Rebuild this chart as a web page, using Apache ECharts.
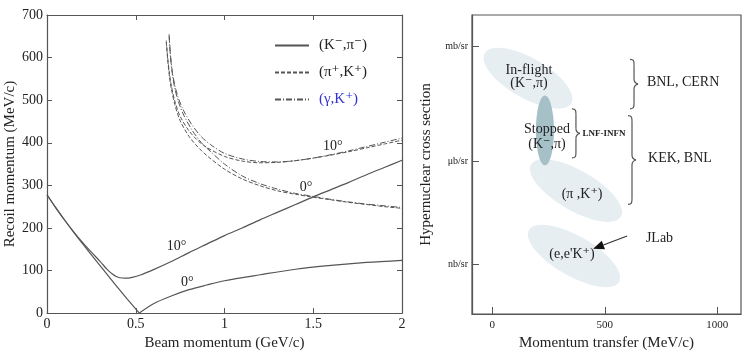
<!DOCTYPE html>
<html>
<head>
<meta charset="utf-8">
<script src="https://cdn.jsdelivr.net/npm/echarts@6/dist/echarts.min.js"></script>
<style>
  html, body { margin: 0; padding: 0; background: #fff; }
  #chart { width: 747px; height: 356px; }
</style>
</head>
<body>
<div id="chart"></div>
<script>
// ---- left panel: recoil momentum vs beam momentum ----
// (K-,pi-) 0 deg, split at the magic momentum
const kpi0DownBeam = [0, 0.05, 0.1, 0.15, 0.2, 0.25, 0.3, 0.35, 0.4, 0.45, 0.52]
const kpi0DownRecoil = [278, 247, 218, 190, 163, 137, 111, 85, 59, 34, 0]
const kpi0UpBeam = [0.52, 0.6, 0.7, 0.8, 0.9, 1.0, 1.2, 1.4, 1.6, 1.8, 2.0]
const kpi0UpRecoil = [0, 22, 40, 55, 66, 76, 90, 103, 112, 119, 124]
// (K-,pi-) 10 deg
const kpi10Beam = [0, 0.05, 0.1, 0.15, 0.2, 0.25, 0.3, 0.34, 0.37, 0.39, 0.41, 0.44, 0.48, 0.53, 0.6, 0.7, 0.8, 0.9, 1.0, 1.1, 1.2, 1.3, 1.4, 1.5, 1.6, 1.7, 1.8, 1.9, 2.0]
const kpi10Recoil = [278, 247, 218, 191, 166, 143, 121, 102, 91, 86, 83, 82, 84, 90, 102, 121, 142, 162, 182, 200, 219, 237, 255, 273, 290, 307, 325, 342, 359]
// (pi+,K+)
const pik10Beam = [0.672, 0.68, 0.69, 0.70, 0.72, 0.75, 0.8, 0.85, 0.9, 1.0, 1.1, 1.2, 1.3, 1.4, 1.5, 1.6, 1.7, 1.8, 1.9, 2.0]
const pik10Recoil = [640, 600, 562, 535, 498, 462, 428, 405, 389, 368, 357, 353, 354, 358, 364, 371, 379, 388, 397, 406]
const pik0Beam = [0.672, 0.68, 0.69, 0.70, 0.72, 0.75, 0.8, 0.85, 0.9, 1.0, 1.1, 1.2, 1.3, 1.4, 1.5, 1.6, 1.7, 1.8, 1.9, 2.0]
const pik0Recoil = [636, 595, 555, 528, 490, 452, 415, 390, 370, 338, 315, 299, 287, 279, 272, 266, 260, 255, 250, 246]
// (gamma,K+)
const gk10Beam = [0.688, 0.695, 0.705, 0.72, 0.74, 0.77, 0.82, 0.87, 0.92, 1.0, 1.1, 1.2, 1.3, 1.4, 1.5, 1.6, 1.7, 1.8, 1.9, 2.0]
const gk10Recoil = [655, 610, 570, 535, 505, 475, 440, 414, 396, 375, 362, 356, 355, 358, 364, 372, 381, 391, 401, 411]
const gk0Beam = [0.688, 0.695, 0.705, 0.72, 0.74, 0.77, 0.82, 0.87, 0.92, 1.0, 1.1, 1.2, 1.3, 1.4, 1.5, 1.6, 1.7, 1.8, 1.9, 2.0]
const gk0Recoil = [650, 605, 565, 528, 497, 465, 428, 400, 380, 350, 322, 304, 291, 281, 274, 267, 261, 256, 252, 248]

// angle labels on the curves (beam, recoil)
const angleText = ['10°', '0°', '10°', '0°']
const angleBeam = [0.73, 0.79, 1.61, 1.46]
const angleRecoil = [157, 72, 392, 296]

// ---- right panel: cross section vs momentum transfer (schematic) ----
const qTicks = [0, 500, 1000]
const sigmaTickValues = [0, 3, 6.33]
const sigmaTickLabels = ['nb/sr', 'μb/sr', 'mb/sr']

// ellipses: centre (q, level), semi-axes in MeV/c, tilt in degrees
const ellipseName = ['inflight', 'piK', 'eeK', 'stopped']
const ellipseQ = [159, 372, 363, 234]
const ellipseLevel = [5.41, 2.14, 0.24, 3.89]
const ellipseMajor = [222, 231, 231, 155]
const ellipseMinor = [89, 89, 89, 40]
const ellipseTilt = [30, 30, 30, 90]

const noteText = ['In-flight', '(K⁻,π)', 'Stopped', '(K⁻,π)', 'LNF-INFN', 'BNL, CERN', 'KEK, BNL', '(π ,K⁺)', '(e,e\'K⁺)', 'JLab']
const noteQ = [163, 163, 243, 243, 496, 687, 692, 399, 354, 743]
const noteLevel = [5.65, 5.27, 3.93, 3.49, 3.80, 5.30, 3.09, 2.02, 0.30, 0.76]

// braces: q position, top level, bottom level
const braceQ = [612, 354, 603]
const braceTop = [5.96, 4.52, 4.32]
const braceBottom = [4.52, 3.09, 1.74]

// JLab arrow: from -> to
const arrowFrom = [599, 0.82]
const arrowTo = [448, 0.445]

const serif = '"Liberation Serif", "DejaVu Serif", serif'
const ink = '#555'
const txt = '#222'

const chart = echarts.init(document.getElementById('chart'))

const zip = (xs, ys) => xs.map((x, i) => [x, ys[i]])

const curve = (name, xs, ys, type) => ({
  type: 'line',
  name,
  xAxisIndex: 0,
  yAxisIndex: 0,
  data: zip(xs, ys),
  symbol: 'none',
  smooth: 0.3,
  itemStyle: { color: ink },
  lineStyle: { color: ink, width: type === 'solid' ? 1.2 : 1, type },
  silent: true
})

const dashed = [4, 2]
const dashDot = [6, 2, 1, 2]

// brace drawn from top to bottom, tip pointing right
const braceShape = (x, y1, y2, w) => {
  const ym = (y1 + y2) / 2
  const h = w / 2
  const s = { stroke: ink, lineWidth: 1.2, fill: null }
  return {
    type: 'group',
    children: [
      { type: 'bezierCurve', shape: { x1: x, y1: y1, cpx1: x + h, cpy1: y1, cpx2: x + h, cpy2: y1 + 2, x2: x + h, y2: y1 + 6 }, style: s },
      { type: 'line', shape: { x1: x + h, y1: y1 + 6, x2: x + h, y2: ym - 5 }, style: s },
      { type: 'bezierCurve', shape: { x1: x + h, y1: ym - 5, cpx1: x + h, cpy1: ym - 1, cpx2: x + w, cpy2: ym, x2: x + w, y2: ym }, style: s },
      { type: 'bezierCurve', shape: { x1: x + w, y1: ym, cpx1: x + w, cpy1: ym, cpx2: x + h, cpy2: ym + 1, x2: x + h, y2: ym + 5 }, style: s },
      { type: 'line', shape: { x1: x + h, y1: ym + 5, x2: x + h, y2: y2 - 6 }, style: s },
      { type: 'bezierCurve', shape: { x1: x + h, y1: y2 - 6, cpx1: x + h, cpy1: y2 - 2, cpx2: x + h, cpy2: y2, x2: x, y2: y2 }, style: s }
    ]
  }
}

const option = {
  animation: false,
  backgroundColor: '#fff',
  grid: [
    { left: 47, top: 15, width: 355, height: 303 },
    { left: 472, top: 15, width: 269, height: 303, show: true, borderColor: ink, borderWidth: 1.2, backgroundColor: 'transparent' }
  ],
  legend: {
    orient: 'vertical',
    left: 269,
    top: 33,
    itemWidth: 34,
    itemHeight: 10,
    itemGap: 12,
    itemStyle: { opacity: 0 },
    textStyle: { fontFamily: serif, fontSize: 15, color: txt, padding: [0, 0, 0, 5] },
    data: [
      { name: '(K⁻,π⁻)' },
      { name: '(π⁺,K⁺)' },
      { name: '(γ,K⁺)', textStyle: { color: '#3232d2' } }
    ]
  },
  xAxis: [
    {
      gridIndex: 0, type: 'value', min: 0, max: 2, interval: 0.5, position: 'bottom',
      name: 'Beam momentum (GeV/c)', nameLocation: 'middle', nameGap: 22,
      nameTextStyle: { fontFamily: serif, fontSize: 15, color: txt },
      axisLine: { onZero: false, lineStyle: { color: ink, width: 1.2 } },
      axisTick: { inside: true, length: 5, lineStyle: { color: ink } },
      axisLabel: { fontFamily: serif, fontSize: 14, color: txt, margin: 4, formatter: v => String(v) },
      splitLine: { show: false }
    },
    {
      gridIndex: 0, type: 'value', min: 0, max: 2, interval: 0.5, position: 'top',
      axisLine: { onZero: false, lineStyle: { color: ink, width: 1.2 } },
      axisTick: { inside: true, length: 5, lineStyle: { color: ink } },
      axisLabel: { show: false },
      splitLine: { show: false }
    },
    {
      gridIndex: 1, type: 'value', min: -90, max: 1105, position: 'bottom',
      name: 'Momentum transfer (MeV/c)', nameLocation: 'middle', nameGap: 22,
      nameTextStyle: { fontFamily: serif, fontSize: 15, color: txt },
      axisLine: { onZero: false, lineStyle: { color: ink, width: 1.2 } },
      axisTick: { inside: true, length: 7, customValues: qTicks, lineStyle: { color: ink } },
      axisLabel: { fontFamily: serif, fontSize: 11, color: txt, margin: 6, customValues: qTicks, formatter: v => String(v) },
      splitLine: { show: false }
    }
  ],
  yAxis: [
    {
      gridIndex: 0, type: 'value', min: 0, max: 700, interval: 100, position: 'left',
      name: 'Recoil momentum (MeV/c)', nameLocation: 'middle', nameGap: 29, nameRotate: 90,
      nameTextStyle: { fontFamily: serif, fontSize: 15, color: txt },
      axisLine: { show: true, onZero: false, lineStyle: { color: ink, width: 1.2 } },
      axisTick: { show: true, inside: true, length: 5, lineStyle: { color: ink } },
      axisLabel: { fontFamily: serif, fontSize: 14, color: txt, margin: 4 },
      splitLine: { show: false }
    },
    {
      gridIndex: 0, type: 'value', min: 0, max: 700, interval: 100, position: 'right',
      axisLine: { show: true, onZero: false, lineStyle: { color: ink, width: 1.2 } },
      axisTick: { show: true, inside: true, length: 5, lineStyle: { color: ink } },
      axisLabel: { show: false },
      splitLine: { show: false }
    },
    {
      gridIndex: 1, type: 'value', min: -1.45, max: 7.25, position: 'left',
      name: 'Hypernuclear cross section', nameLocation: 'middle', nameGap: 38, nameRotate: 90,
      nameTextStyle: { fontFamily: serif, fontSize: 15, color: txt },
      axisLine: { show: true, onZero: false, lineStyle: { color: ink, width: 1.2 } },
      axisTick: { show: true, inside: true, length: 7, customValues: sigmaTickValues, lineStyle: { color: ink } },
      axisLabel: {
        fontFamily: serif, fontSize: 10, color: txt, margin: 4, customValues: sigmaTickValues,
        formatter: v => sigmaTickLabels[sigmaTickValues.indexOf(v)] || ''
      },
      splitLine: { show: false }
    }
  ],
  series: [
    curve('(K⁻,π⁻)', kpi0DownBeam, kpi0DownRecoil, 'solid'),
    curve('(K⁻,π⁻)', kpi0UpBeam, kpi0UpRecoil, 'solid'),
    curve('(K⁻,π⁻)', kpi10Beam, kpi10Recoil, 'solid'),
    curve('(π⁺,K⁺)', pik10Beam, pik10Recoil, dashed),
    curve('(π⁺,K⁺)', pik0Beam, pik0Recoil, dashed),
    curve('(γ,K⁺)', gk10Beam, gk10Recoil, dashDot),
    curve('(γ,K⁺)', gk0Beam, gk0Recoil, dashDot),
    {
      // angle labels
      type: 'custom', xAxisIndex: 0, yAxisIndex: 0, silent: true, clip: false,
      data: angleBeam.map((b, i) => [b, angleRecoil[i], i]),
      renderItem: (params, api) => {
        const p = api.coord([api.value(0), api.value(1)])
        return {
          type: 'text', x: p[0], y: p[1],
          style: { text: angleText[api.value(2)], fontFamily: serif, fontSize: 14, fill: txt, align: 'center', verticalAlign: 'middle' }
        }
      }
    },
    {
      // ellipses
      type: 'custom', xAxisIndex: 2, yAxisIndex: 2, silent: true, clip: false,
      data: ellipseQ.map((q, i) => [q, ellipseLevel[i], ellipseMajor[i], ellipseMinor[i], ellipseTilt[i], i]),
      renderItem: (params, api) => {
        const c = api.coord([api.value(0), api.value(1)])
        const a = api.size([api.value(2), 0])[0]
        const b = api.size([api.value(3), 0])[0]
        const isStopped = ellipseName[api.value(5)] === 'stopped'
        return {
          type: 'ellipse', x: c[0], y: c[1], rotation: -api.value(4) * Math.PI / 180,
          shape: { cx: 0, cy: 0, rx: a, ry: b },
          style: { fill: isStopped ? '#a6c0c8' : '#e6eef2' }
        }
      }
    },
    {
      // braces
      type: 'custom', xAxisIndex: 2, yAxisIndex: 2, silent: true, clip: false,
      data: braceQ.map((q, i) => [q, braceTop[i], braceBottom[i]]),
      renderItem: (params, api) => {
        const t = api.coord([api.value(0), api.value(1)])
        const b = api.coord([api.value(0), api.value(2)])
        return braceShape(t[0], t[1], b[1], 8)
      }
    },
    {
      // JLab arrow
      type: 'custom', xAxisIndex: 2, yAxisIndex: 2, silent: true, clip: false,
      data: [[arrowFrom[0], arrowFrom[1], arrowTo[0], arrowTo[1]]],
      renderItem: (params, api) => {
        const f = api.coord([api.value(0), api.value(1)])
        const t = api.coord([api.value(2), api.value(3)])
        const ang = Math.atan2(t[1] - f[1], t[0] - f[0])
        const len = 11, half = 4.5
        const bx = t[0] - len * Math.cos(ang), by = t[1] - len * Math.sin(ang)
        const nx = -Math.sin(ang) * half, ny = Math.cos(ang) * half
        return {
          type: 'group',
          children: [
            { type: 'line', shape: { x1: f[0], y1: f[1], x2: bx, y2: by }, style: { stroke: '#333', lineWidth: 1.2 } },
            { type: 'polygon', shape: { points: [[t[0], t[1]], [bx + nx, by + ny], [bx - nx, by - ny]] }, style: { fill: '#111' } }
          ]
        }
      }
    },
    {
      // annotation texts
      type: 'custom', xAxisIndex: 2, yAxisIndex: 2, silent: true, clip: false,
      data: noteQ.map((q, i) => [q, noteLevel[i], i]),
      renderItem: (params, api) => {
        const p = api.coord([api.value(0), api.value(1)])
        const i = api.value(2)
        const s = noteText[i]
        const small = s === 'LNF-INFN'
        const left = s === 'BNL, CERN' || s === 'KEK, BNL'
        return {
          type: 'text', x: p[0], y: p[1],
          style: {
            text: s, fontFamily: serif, fontSize: small ? 9 : 14, fontWeight: small ? 'bold' : 'normal',
            fill: txt, align: left ? 'left' : 'center', verticalAlign: 'middle'
          }
        }
      }
    }
  ]
}

chart.setOption(option)
</script>
</body>
</html>
